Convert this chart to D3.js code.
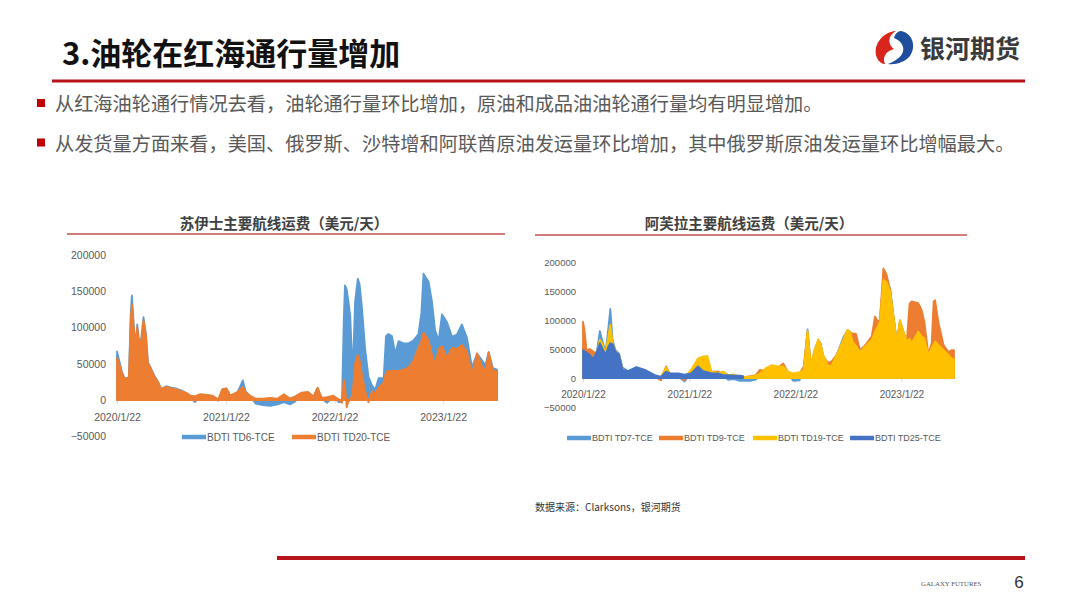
<!DOCTYPE html>
<html><head><meta charset="utf-8">
<script src="https://cdn.jsdelivr.net/npm/d3@7"></script>
<style>body{margin:0;background:#fff;} svg{display:block;}</style>
</head><body><svg id="c" width="1080" height="608"></svg>
<script>
// ---------------- data ----------------
const slideTitle = "3.油轮在红海通行量增加";
const bullets = [
  "从红海油轮通行情况去看，油轮通行量环比增加，原油和成品油油轮通行量均有明显增加。",
  "从发货量方面来看，美国、俄罗斯、沙特增和阿联酋原油发运量环比增加，其中俄罗斯原油发运量环比增幅最大。"
];
const yTicks = [-50000, 0, 50000, 100000, 150000, 200000];
const xTickLabels = ["2020/1/22", "2021/1/22", "2022/1/22", "2023/1/22"];
const dateDomain = ["2020-01-22", "2023-07-22"];

const suezTitle = "苏伊士主要航线运费（美元/天）";
const suezNames = ["BDTI TD6-TCE", "BDTI TD20-TCE"];
const suezDates = ["2020-01-22","2020-01-29","2020-02-08","2020-02-18","2020-03-02","2020-03-08","2020-03-12","2020-03-17","2020-03-23","2020-03-30",
"2020-04-06","2020-04-13","2020-04-20","2020-04-28","2020-05-05","2020-05-15","2020-05-27","2020-06-07","2020-06-19","2020-07-05",
"2020-07-22","2020-08-06","2020-08-26","2020-09-10","2020-09-26","2020-10-10","2020-10-28","2020-11-18","2020-12-08","2020-12-27",
"2021-01-10","2021-01-24","2021-02-06","2021-03-02","2021-03-20","2021-03-29","2021-04-12","2021-05-02","2021-05-26","2021-06-20",
"2021-07-15","2021-08-05","2021-08-25","2021-09-12","2021-10-02","2021-10-25","2021-11-12","2021-11-26","2021-12-10","2021-12-28",
"2022-01-18","2022-02-05","2022-02-16","2022-02-22","2022-02-26","2022-03-04","2022-03-10","2022-03-16","2022-03-24","2022-04-01",
"2022-04-10","2022-04-16","2022-04-24","2022-05-05","2022-05-16","2022-05-28","2022-06-08","2022-06-19","2022-07-06","2022-07-14",
"2022-07-22","2022-08-03","2022-08-14","2022-08-25","2022-09-11","2022-09-28","2022-10-14","2022-10-31","2022-11-10","2022-11-17",
"2022-12-04","2022-12-15","2022-12-26","2023-01-07","2023-01-18","2023-02-04","2023-02-21","2023-03-09","2023-03-26","2023-04-12",
"2023-04-29","2023-05-16","2023-06-01","2023-06-13","2023-06-24","2023-07-08","2023-07-22"];
const td6 = [67000,55000,38000,29000,32000,118000,144000,112000,74000,104000,
77000,86000,114000,92000,52000,44000,33000,26000,15000,19000,
17000,16000,13000,10000,3000,-3000,6000,7000,5000,-1000,
14000,16000,5000,11000,27000,12000,6000,-5000,-7000,-8000,
-6000,-3000,-6000,-2000,9000,10000,3000,16000,2000,-4000,
5000,-3000,-3000,110000,158000,152000,135000,115000,35000,135000,
167000,160000,128000,70000,32000,20000,14000,30000,30000,88000,
91000,88000,64000,81000,78000,78000,82000,91000,120000,174000,
163000,137000,96000,82000,118000,107000,87000,90000,104000,86000,
45000,64000,55000,48000,66000,44000,42000];
const td20 = [58000,50000,36000,29000,31000,108000,132000,108000,72000,100000,
75000,84000,110000,90000,50000,43000,32000,25000,15000,18000,
16000,15000,12000,10000,6000,5000,8000,7000,6000,1000,
15000,16000,6000,11000,18000,11000,6000,2000,2000,3000,
2000,8000,2000,5000,10000,11000,5000,17000,3000,4000,
6000,1000,-4000,28000,22000,-10000,-2000,0,10000,50000,
62000,55000,35000,12000,-3000,12000,10000,17000,24000,38000,
40000,40000,40000,40000,42000,45000,54000,72000,82000,93000,
82000,63000,49000,70000,74000,58000,72000,70000,76000,67000,
36000,64000,47000,40000,66000,40000,40000];

const aframaxTitle = "阿芙拉主要航线运费（美元/天）";
const aframaxNames = ["BDTI TD7-TCE", "BDTI TD9-TCE", "BDTI TD19-TCE", "BDTI TD25-TCE"];
const aframaxDates = ["2020-01-22","2020-01-28","2020-02-03","2020-02-14","2020-02-26","2020-03-10","2020-03-20","2020-03-28","2020-04-09","2020-04-19",
"2020-04-25","2020-05-03","2020-05-13","2020-05-25","2020-06-06","2020-06-25","2020-07-24","2020-08-22","2020-09-25","2020-10-16",
"2020-11-03","2020-11-17","2020-12-14","2021-01-06","2021-01-28","2021-02-21","2021-03-10","2021-03-25","2021-04-08","2021-05-01",
"2021-05-18","2021-06-05","2021-06-25","2021-07-15","2021-07-26","2021-08-19","2021-09-08","2021-09-22","2021-10-13","2021-11-01",
"2021-11-24","2021-12-11","2021-12-28","2022-01-15","2022-02-05","2022-02-20","2022-03-05","2022-03-16","2022-03-30","2022-04-11",
"2022-04-19","2022-04-28","2022-05-16","2022-05-27","2022-06-13","2022-06-25","2022-07-06","2022-07-20","2022-07-29","2022-08-07",
"2022-08-19","2022-09-01","2022-09-19","2022-10-12","2022-10-23","2022-11-01","2022-11-09","2022-11-21","2022-12-02","2022-12-14",
"2022-12-25","2023-01-06","2023-01-17","2023-01-29","2023-02-09","2023-02-19","2023-02-26","2023-03-21","2023-04-01","2023-04-11",
"2023-04-25","2023-05-06","2023-05-13","2023-05-18","2023-05-29","2023-06-16","2023-07-03","2023-07-13","2023-07-22"];
const td7 = [50000,48000,45000,42000,38000,47000,81000,65000,45000,90000,
119000,65000,48000,42000,18000,12000,16000,12000,3000,-3000,
15000,5000,3000,-6000,10000,25000,30000,22000,8000,6000,
4000,-3000,-2000,-5000,-5000,-5000,-3000,6000,12000,20000,
16000,20000,8000,-5000,-4000,15000,84000,20000,50000,65000,
60000,38000,20000,22000,40000,55000,70000,82000,80000,65000,
60000,46000,56000,66000,82000,90000,100000,170000,166000,155000,
110000,62000,98000,80000,62000,70000,65000,82000,72000,66000,
40000,55000,60000,63000,57000,48000,40000,35000,33000];
const td9 = [97000,80000,48000,50000,46000,40000,60000,55000,40000,60000,
70000,50000,40000,35000,15000,10000,14000,10000,2000,-4000,
20000,6000,3000,-4000,12000,31000,28000,24000,11000,11000,
6000,2000,4000,2000,1000,3000,5000,14000,12000,20000,
18000,25000,10000,5000,8000,20000,80000,22000,45000,62000,
55000,36000,26000,29000,40000,52000,66000,80000,78000,77000,
76000,48000,56000,72000,106000,98000,100000,189000,178000,152000,
108000,60000,97000,78000,60000,128000,132000,129000,118000,97000,
40000,60000,132000,134000,97000,57000,45000,48000,48000];
const td19 = [40000,42000,40000,38000,36000,44000,66000,60000,42000,75000,
92000,60000,46000,40000,14000,10000,15000,11000,4000,2000,
18000,6000,4000,2000,14000,34000,37000,38000,11000,9000,
11000,5000,6000,3000,2000,2000,4000,8000,17000,22000,
20000,20000,11000,8000,10000,14000,81000,22000,50000,67000,
58000,40000,20000,22000,40000,53000,66000,83000,80000,63000,
55000,45000,54000,66000,80000,88000,97000,169000,165000,150000,
109000,63000,100000,80000,63000,68000,60000,80000,72000,68000,
40000,52000,58000,63000,57000,48000,40000,34000,32000];
const td25 = [48000,46000,44000,40000,34000,45000,60000,52000,40000,55000,
60000,58000,45000,40000,14000,12000,19000,14000,5000,2000,
11000,8000,8000,6000,8000,20000,12000,10000,8000,8000,
5000,5000,4000,4000,3000,null,null,null,null,null,
null,null,null,null,null,null,null,null,null,null,
null,null,null,null,null,null,null,null,null,null,
null,null,null,null,null,null,null,null,null,null,
null,null,null,null,null,null,null,null,null,null,
null,null,null,null,null,null,null,null,null];

const sourceText = "数据来源：Clarksons，银河期货";
const brandName = "银河期货";
const footerText = "GALAXY FUTURES";
const pageNo = "6";

// ---------------- drawing ----------------
const svg = d3.select("#c");
const CJK = "'Noto Sans CJK SC','Noto Sans',sans-serif";
const LAT = "'Liberation Sans',Arial,sans-serif";
const RED = "#b8121b";
const parse = d3.timeParse("%Y-%m-%d");
const parseSlash = d3.timeParse("%Y/%m/%d");
const fmt = d3.timeFormat("%Y/%-m/%-d");

svg.append("rect").attr("width", 1080).attr("height", 608).attr("fill", "#fff");

// header
svg.append("text").attr("x", 62).attr("y", 51).attr("dominant-baseline", "central")
  .attr("font-family", CJK).attr("font-weight", "bold").attr("font-size", 31).attr("fill", "#111")
  .text(slideTitle);
svg.append("line").attr("x1", 52).attr("x2", 1025).attr("y1", 81).attr("y2", 81)
  .attr("stroke", RED).attr("stroke-width", 3);

// logo
const logo = svg.append("g");
logo.append("path").attr("fill", "#d9261c")
  .attr("d", "M896 31 C882 32 872 46 877 58 C879 62 882 64 885 64 C882 57 886 51 894 49 C888 45 887 36 896 31 Z");
logo.append("path").attr("fill", "#1f4e9c")
  .attr("d", "M900 31 C912 32 917 46 910 56 C905 62 896 65 888 64 C898 60 905 54 903 47 C902 42 897 39 894 38 C895 34 897 32 900 31 Z");
svg.append("text").attr("x", 920).attr("y", 47).attr("dominant-baseline", "central")
  .attr("font-family", CJK).attr("font-weight", "bold").attr("font-size", 25).attr("fill", "#3a3a3a")
  .text(brandName);

// bullets
bullets.forEach((b, i) => {
  const cy = 103 + i * 39.5;
  svg.append("rect").attr("x", 37).attr("y", cy - 4).attr("width", 8).attr("height", 8).attr("fill", "#c00000");
  svg.append("text").attr("x", 55).attr("y", cy).attr("dominant-baseline", "central")
    .attr("font-family", CJK).attr("font-size", 19.2).attr("fill", "#595959").text(b);
});

function drawChart(cfg) {
  const g = svg.append("g");
  const x = d3.scaleTime().domain(dateDomain.map(parse)).range(cfg.xRange);
  const y = d3.scaleLinear().domain([yTicks[0], yTicks[yTicks.length - 1]]).range(cfg.yRange);

  // title + rule
  g.append("text").attr("x", cfg.titleX).attr("y", cfg.titleY).attr("text-anchor", "middle")
    .attr("dominant-baseline", "central").attr("font-family", CJK).attr("font-weight", "bold")
    .attr("font-size", 14.5).attr("fill", "#404040").text(cfg.title);
  g.append("line").attr("x1", cfg.ruleX[0]).attr("x2", cfg.ruleX[1]).attr("y1", cfg.ruleY).attr("y2", cfg.ruleY)
    .attr("stroke", "#c0504d").attr("stroke-width", 1.3);

  // y axis labels
  const ya = g.append("g").attr("transform", `translate(${cfg.yLabelX},0)`)
    .call(d3.axisLeft(y).tickValues(yTicks).tickSize(0).tickPadding(0).tickFormat(d3.format("d")));
  ya.select(".domain").remove();
  ya.selectAll("text").attr("font-family", LAT).attr("font-size", cfg.yFont).attr("fill", "#595959");

  // x axis
  const xa = g.append("g").attr("transform", `translate(0,${y(0)})`)
    .call(d3.axisBottom(x).tickValues(xTickLabels.map(parseSlash)).tickFormat(fmt)
      .tickSizeInner(4).tickSizeOuter(0).tickPadding(cfg.xPad));
  xa.select(".domain").attr("stroke", "#d9d9d9");
  xa.selectAll("line").attr("stroke", "#d9d9d9");
  xa.selectAll("text").attr("font-family", LAT).attr("font-size", cfg.xFont).attr("fill", "#595959");

  // areas
  const dates = cfg.dates.map(parse);
  cfg.series.forEach(s => {
    const pts = dates.map((d, i) => ({ d, v: s.values[i] }));
    const area = d3.area().defined(p => p.v !== null)
      .x(p => x(p.d)).y0(y(0)).y1(p => y(p.v));
    g.append("path").datum(pts).attr("d", area)
      .attr("fill", s.color).attr("stroke", s.color).attr("stroke-width", 1.8)
      .attr("stroke-linejoin", "round");
  });

  // legend
  cfg.series.forEach((s, i) => {
    const lx = cfg.legendX[i];
    g.append("line").attr("x1", lx).attr("x2", lx + 24).attr("y1", cfg.legendY).attr("y2", cfg.legendY)
      .attr("stroke", s.color).attr("stroke-width", 4.5);
    g.append("text").attr("x", lx + 25).attr("y", cfg.legendY).attr("dominant-baseline", "central")
      .attr("font-family", LAT).attr("font-size", cfg.legendFont).attr("fill", "#595959").text(s.name);
  });
}

drawChart({
  title: suezTitle, titleX: 284, titleY: 222, ruleX: [67, 505], ruleY: 234,
  xRange: [117, 497], yRange: [436.3, 254.8], yLabelX: 106, yFont: 10.5, xFont: 10.5, xPad: 10,
  dates: suezDates,
  series: [
    { name: suezNames[0], values: td6, color: "#5b9bd5" },
    { name: suezNames[1], values: td20, color: "#ed7d31" }
  ],
  legendX: [182, 292], legendY: 437, legendFont: 10
});

drawChart({
  title: aframaxTitle, titleX: 749, titleY: 222, ruleX: [535, 967], ruleY: 235,
  xRange: [583, 954], yRange: [407, 262], yLabelX: 576, yFont: 9.5, xFont: 10, xPad: 9,
  dates: aframaxDates,
  series: [
    { name: aframaxNames[0], values: td7, color: "#5b9bd5" },
    { name: aframaxNames[1], values: td9, color: "#ed7d31" },
    { name: aframaxNames[2], values: td19, color: "#ffc000" },
    { name: aframaxNames[3], values: td25, color: "#4472c4" }
  ],
  legendX: [567, 659, 753, 850], legendY: 438, legendFont: 9
});

// source
svg.append("text").attr("x", 535).attr("y", 506).attr("dominant-baseline", "central")
  .attr("font-family", CJK).attr("font-size", 10).attr("fill", "#333").text(sourceText);

// footer
svg.append("line").attr("x1", 277).attr("x2", 1025).attr("y1", 558).attr("y2", 558)
  .attr("stroke", RED).attr("stroke-width", 4);
svg.append("text").attr("x", 921).attr("y", 583).attr("dominant-baseline", "central")
  .attr("font-family", "'Liberation Serif',serif").attr("font-size", 6.8).attr("fill", "#555").text(footerText);
svg.append("text").attr("x", 1019).attr("y", 582).attr("text-anchor", "middle").attr("dominant-baseline", "central")
  .attr("font-family", LAT).attr("font-size", 17).attr("fill", "#333").text(pageNo);
</script></body></html>
